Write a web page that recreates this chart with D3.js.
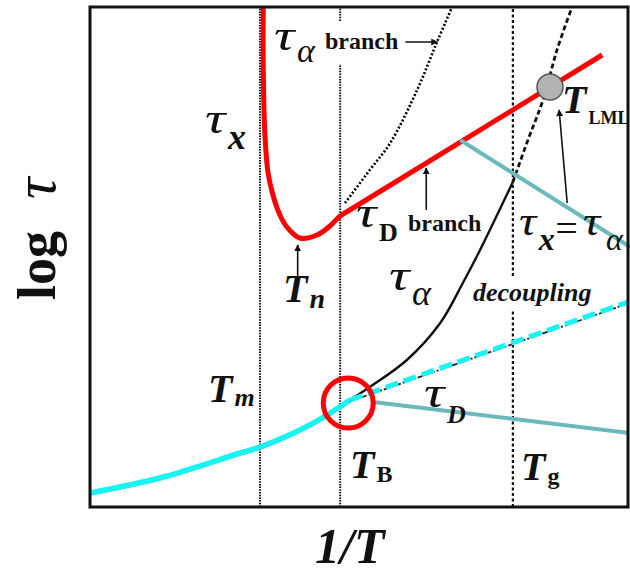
<!DOCTYPE html>
<html>
<head>
<meta charset="utf-8">
<script src="https://cdn.jsdelivr.net/npm/d3@7"></script>
<style>
  html, body { margin: 0; padding: 0; background: #fff; }
  svg { display: block; }
</style>
</head>
<body>
<svg id="chart" width="630" height="573"></svg>
<script>
// log τ versus 1/T, both axes in arbitrary units (0–100)

// characteristic temperatures (1/T positions)
const tempNames = ["Tm", "TB", "Tg"];
const tempX = [31.6, 46.5, 78.6];

// τx: crystallisation time (nose at Tn, then the τD branch)
const tauXCurve = [
  [32.2, 100], [32.2, 88], [32.5, 74.8], [33.1, 66.8], [34.0, 62.4],
  [35.3, 58.4], [36.6, 56.0], [39.0, 53.8], [42.2, 54.4], [44.6, 56.2],
  [46.5, 58.2], [48.9, 59.8], [95.2, 90.4]
];

// τα branch of τx (dotted)
const tauXAlphaBranch = [
  [47.4, 60.8], [52.0, 67.4], [55.8, 72.8], [60.8, 83.4], [64.5, 93.0], [67.3, 100]
];

// τα: solid down to Tg, dashed below Tg
const tauAlpha = [
  [48.3, 21.4], [52.0, 24.0], [58.9, 29.4], [65.1, 36.8], [69.3, 44.8],
  [72.5, 51.4], [78.6, 65.0]
];
const tauAlphaGlass = [
  [78.6, 65.0], [81.4, 73.4], [84.2, 81.4], [86.8, 91.4], [89.6, 100]
];

// coupled relaxation above TB, and τD after decoupling
const tauCoupled = [
  [0, 2.8], [13.6, 6.0], [27.9, 10.8], [31.6, 12.0], [39.0, 15.4],
  [44.1, 18.4], [48.3, 21.4]
];
const tauD = [[48.3, 21.4], [100, 41.0]];

// callout connectors leading out of the panel
const callouts = [
  [[68.8, 73.4], [100.4, 52.0]],
  [[52.6, 21.0], [100.2, 14.8]]
];

// marked points: decoupling at TB, crossing τx = τα at TLML
const decouplePoint = [48.0, 20.8];
const lmlPoint = [85.5, 84.0];

// annotation arrows [from, to]
const arrows = [
  [[58.6, 93.0], [64.6, 93.0]],  // τα branch →
  [[38.6, 46.0], [38.6, 52.4]],  // Tn ↑
  [[62.5, 59.4], [62.5, 67.8]],  // τD branch ↑
  [[88.7, 60.8], [87.2, 79.4]]   // τx = τα → TLML
];

const svg = d3.select("#chart");
const box = {left: 90, right: 628, top: 7, bottom: 507};
const x = d3.scaleLinear().domain([0, 100]).range([box.left, box.right]);
const y = d3.scaleLinear().domain([0, 100]).range([box.bottom, box.top]);

const line = d3.line().x(d => x(d[0])).y(d => y(d[1]));
const smooth = d3.line().x(d => x(d[0])).y(d => y(d[1])).curve(d3.curveCatmullRom.alpha(0.5));

const defs = svg.append("defs");
defs.append("marker")
  .attr("id", "head").attr("viewBox", "0 0 10 10")
  .attr("refX", 9).attr("refY", 5)
  .attr("markerWidth", 7).attr("markerHeight", 8)
  .attr("markerUnits", "userSpaceOnUse")
  .attr("orient", "auto")
  .append("path").attr("d", "M0,0 L10,5 L0,10 z").attr("fill", "#111");

defs.append("clipPath").attr("id", "panel")
  .append("rect").attr("x", box.left).attr("y", box.top)
  .attr("width", box.right - box.left).attr("height", box.bottom - box.top);

// temperature markers
tempNames.forEach((n, i) => {
  svg.append("line")
    .attr("x1", x(tempX[i])).attr("x2", x(tempX[i]))
    .attr("y1", y(0)).attr("y2", y(100))
    .attr("stroke", "#111")
    .attr("stroke-width", n === "Tg" ? 2.2 : 2)
    .attr("stroke-dasharray", n === "Tg" ? "3,2.5" : "1.5,1.2");
});

// white backing behind labels that sit on marker lines
svg.append("rect").attr("x", 272).attr("y", 21).attr("width", 134).attr("height", 43).attr("fill", "#fff");
svg.append("rect").attr("x", 470).attr("y", 276).attr("width", 128).attr("height", 34).attr("fill", "#fff");

const g = svg.append("g").attr("clip-path", "url(#panel)");

// τα branch (dotted)
g.append("path").attr("d", smooth(tauXAlphaBranch))
  .attr("fill", "none").attr("stroke", "#000")
  .attr("stroke-width", 2.6).attr("stroke-dasharray", "2,2");

// τα
g.append("path").attr("d", smooth(tauAlpha))
  .attr("fill", "none").attr("stroke", "#111").attr("stroke-width", 2.4);
g.append("path").attr("d", smooth(tauAlphaGlass))
  .attr("fill", "none").attr("stroke", "#111")
  .attr("stroke-width", 2.8).attr("stroke-dasharray", "5,3");

// coupled regime: thin dark edge beneath the cyan
g.append("path").attr("d", smooth(tauCoupled))
  .attr("transform", "translate(0,1.8)")
  .attr("fill", "none").attr("stroke", "#222").attr("stroke-width", 1.6);
g.append("path").attr("d", smooth(tauCoupled))
  .attr("fill", "none").attr("stroke", "#18f4f4").attr("stroke-width", 5.5);

// τD (dashed cyan over a dark dash-dot)
g.append("path").attr("d", line(tauD))
  .attr("transform", "translate(0,1.5)")
  .attr("fill", "none").attr("stroke", "#222")
  .attr("stroke-width", 1.8).attr("stroke-dasharray", "6,2,2,2");
g.append("path").attr("d", line(tauD))
  .attr("fill", "none").attr("stroke", "#18f4f4")
  .attr("stroke-width", 5).attr("stroke-dasharray", "13,6");

// τx (red)
g.append("path").attr("d", smooth(tauXCurve))
  .attr("fill", "none").attr("stroke", "#ff0000")
  .attr("stroke-width", 5).attr("stroke-linejoin", "round");

// callout connectors
callouts.forEach(c => {
  svg.append("path").attr("d", line(c))
    .attr("fill", "none").attr("stroke", "#6cb9bd").attr("stroke-width", 4);
});

// decoupling ring and TLML point
svg.append("circle").attr("cx", x(decouplePoint[0])).attr("cy", y(decouplePoint[1]))
  .attr("r", 25).attr("fill", "none").attr("stroke", "#ff0000").attr("stroke-width", 5);
svg.append("circle").attr("cx", x(lmlPoint[0])).attr("cy", y(lmlPoint[1]))
  .attr("r", 13).attr("fill", "#b2b2b2").attr("stroke", "#555").attr("stroke-width", 1.5);

// arrows
arrows.forEach(a => {
  svg.append("line")
    .attr("x1", x(a[0][0])).attr("y1", y(a[0][1]))
    .attr("x2", x(a[1][0])).attr("y2", y(a[1][1]))
    .attr("stroke", "#111").attr("stroke-width", 1.6)
    .attr("marker-end", "url(#head)");
});

// labels: each part is its own text; τ glyphs are set wide with a horizontal scale.
// Later parts of a label flow after the previous part so the pieces never collide.
const serif = "'Liberation Serif', 'Times New Roman', serif";
const TAU = {s: 44, st: "italic", w: "normal", sx: 1.3};
const labels = [
  [{t: "τ", x: 274, y: 50, ...TAU},
   {t: "α", x: 295, y: 62, s: 34, st: "italic", w: "normal"},
   {t: "branch", x: 325, y: 49, s: 24, st: "normal", w: "bold"}],
  [{t: "τ", x: 205, y: 133, ...TAU},
   {t: "x", x: 228, y: 149, s: 36, st: "italic", w: "bold"}],
  [{t: "T", x: 283, y: 302, s: 40, st: "italic", w: "bold"},
   {t: "n", x: 306, y: 308, s: 28, st: "italic", w: "bold"}],
  [{t: "τ", x: 356, y: 227, ...TAU},
   {t: "D", x: 378, y: 241, s: 26, st: "normal", w: "bold"},
   {t: "branch", x: 408, y: 231, s: 24, st: "normal", w: "bold"}],
  [{t: "τ", x: 389, y: 290, ...TAU},
   {t: "α", x: 410, y: 305, s: 36, st: "italic", w: "normal"}],
  [{t: "decoupling", x: 473, y: 301, s: 26, st: "italic", w: "bold"}],
  [{t: "T", x: 208, y: 402, s: 40, st: "italic", w: "bold"},
   {t: "m", x: 233, y: 406, s: 26, st: "italic", w: "bold"}],
  [{t: "τ", x: 424, y: 407, ...TAU},
   {t: "D", x: 443, y: 423, s: 26, st: "italic", w: "bold"}],
  [{t: "T", x: 350, y: 478, s: 40, st: "italic", w: "bold"},
   {t: "B", x: 375, y: 482, s: 24, st: "normal", w: "bold"}],
  [{t: "T", x: 521, y: 480, s: 40, st: "italic", w: "bold"},
   {t: "g", x: 546, y: 484, s: 24, st: "normal", w: "bold"}],
  [{t: "T", x: 562, y: 113, s: 40, st: "italic", w: "bold"},
   {t: "LML", x: 583, y: 124, s: 18, st: "normal", w: "bold"}],
  [{t: "τ", x: 519, y: 235, s: 42, st: "italic", w: "normal", sx: 1.15},
   {t: "x", x: 535, y: 250, s: 32, st: "italic", w: "bold"},
   {t: "=", x: 554, y: 242, s: 40, st: "normal", w: "normal"},
   {t: "τ", x: 583, y: 235, s: 42, st: "italic", w: "normal", sx: 1.15},
   {t: "α", x: 606, y: 250, s: 32, st: "italic", w: "normal"}],
  [{t: "1/T", x: 315, y: 563, s: 50, st: "italic", w: "bold"}]
];

labels.forEach(parts => {
  let prevRight = -Infinity;
  parts.forEach(p => {
    const px = Math.max(p.x, prevRight + 0.5);
    const t = svg.append("text")
      .attr("transform", `translate(${px},${p.y})` + (p.sx ? ` scale(${p.sx},1)` : ""))
      .attr("font-family", serif)
      .attr("font-size", p.s).attr("font-style", p.st).attr("font-weight", p.w)
      .attr("fill", "#111")
      .text(p.t);
    prevRight = t.node().getBoundingClientRect().right;
  });
});

// y axis title
svg.append("text")
  .attr("transform", "translate(55,300) rotate(-90)")
  .attr("font-family", serif).attr("font-size", 54).attr("font-weight", "bold")
  .attr("fill", "#111").text("log");
svg.append("text")
  .attr("transform", "translate(55,199) rotate(-90)")
  .attr("font-family", serif).attr("font-size", 60).attr("font-style", "italic")
  .attr("fill", "#111").text("τ");

// panel frame
svg.append("rect").attr("x", box.left).attr("y", box.top)
  .attr("width", box.right - box.left).attr("height", box.bottom - box.top)
  .attr("fill", "none").attr("stroke", "#111").attr("stroke-width", 3);
</script>
</body>
</html>
